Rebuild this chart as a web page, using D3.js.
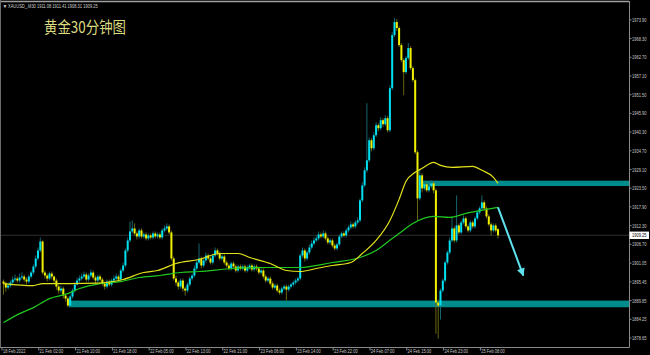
<!DOCTYPE html>
<html>
<head>
<meta charset="utf-8">
<script src="https://cdn.jsdelivr.net/npm/d3@7"></script>
<style>
  html, body { margin: 0; padding: 0; background: #000; }
  svg { display: block; }
</style>
</head>
<body>
<div id="chart"></div>
<script>
(function(){

    // ---- data (XAUUSD M30) ----
    var timeLabels = ["18 Feb 2022", "21 Feb 02:00", "21 Feb 10:00", "21 Feb 18:00", "22 Feb 05:00",
        "22 Feb 13:00", "22 Feb 21:00", "23 Feb 06:00", "23 Feb 14:00", "23 Feb 22:00",
        "24 Feb 07:00", "24 Feb 15:00", "24 Feb 23:00", "25 Feb 08:00"];
    var timeTickBars = [0, 16, 32, 48, 64, 80, 96, 112, 128, 144, 160, 176, 192, 208];

    var priceTicks = [1973.90, 1968.30, 1962.70, 1957.10, 1951.50, 1945.90, 1940.30, 1934.70, 1929.10,
        1923.50, 1917.90, 1912.30, 1906.70, 1901.05, 1895.45, 1889.85, 1884.25, 1878.65];

    var opens = [
        1895.4,1894.8,1893.6,1894.2,1895.1,1896.0,1896.3,1895.7,1896.6,1896.9,
        1896.0,1895.4,1896.9,1898.1,1899.9,1902.3,1904.7,1907.4,1898.1,1897.2,
        1896.3,1897.8,1896.9,1895.7,1893.9,1892.7,1893.3,1891.2,1890.3,1888.2,
        1890.9,1892.7,1894.5,1895.7,1896.3,1896.9,1897.5,1896.0,1897.2,1898.1,
        1896.6,1895.7,1896.9,1896.0,1894.8,1893.9,1895.4,1894.5,1895.7,1896.3,
        1896.9,1896.0,1898.7,1900.2,1904.7,1907.7,1910.4,1911.3,1909.8,1908.9,
        1910.7,1908.9,1909.5,1908.3,1909.2,1908.6,1909.8,1908.9,1909.5,1908.6,
        1910.7,1911.3,1911.9,1910.1,1902.3,1896.3,1895.1,1893.9,1895.7,1893.3,
        1892.7,1894.5,1896.3,1897.2,1899.3,1901.1,1902.3,1900.2,1901.7,1903.2,
        1902.3,1901.1,1903.2,1904.7,1903.8,1902.3,1902.9,1901.1,1900.2,1899.3,
        1900.8,1899.9,1898.7,1899.9,1899.3,1899.9,1898.7,1899.6,1900.2,1899.0,
        1899.9,1899.3,1898.1,1898.7,1896.9,1895.7,1896.3,1894.8,1893.6,1894.2,
        1892.7,1892.1,1893.3,1893.9,1893.0,1893.9,1894.5,1895.1,1895.7,1896.3,
        1903.2,1904.7,1902.3,1904.1,1905.6,1906.8,1907.7,1908.3,1909.5,1908.9,
        1909.8,1908.3,1907.1,1907.7,1906.2,1905.3,1906.5,1908.9,1909.8,1909.2,
        1910.7,1911.6,1912.5,1911.9,1913.1,1913.7,1919.7,1924.2,1928.7,1931.7,
        1937.7,1935.3,1939.2,1942.2,1941.3,1943.7,1942.5,1944.3,1940.7,1953.3,
        1969.2,1973.1,1971.3,1966.2,1961.7,1958.1,1962.3,1965.3,1959.3,1955.7,
        1934.1,1920.3,1927.2,1923.3,1924.5,1922.7,1923.9,1924.8,1922.7,1889.1,
        1888.2,1892.7,1895.7,1901.1,1904.1,1907.7,1911.3,1907.7,1912.2,1910.1,
        1913.1,1914.3,1911.9,1910.7,1913.1,1911.9,1914.3,1916.1,1917.3,1919.1,
        1917.3,1914.9,1912.5,1910.7,1912.2,1911.08];

    var highs = [
        1896.0,1895.4,1895.1,1895.7,1896.9,1897.5,1896.9,1897.8,1898.1,1897.5,
        1896.6,1897.5,1898.7,1900.5,1903.2,1905.6,1908.6,1907.7,1898.7,1897.8,
        1898.4,1898.4,1897.2,1896.3,1894.5,1894.2,1893.9,1891.8,1890.9,1891.5,
        1893.3,1895.1,1896.6,1897.2,1897.8,1898.4,1898.1,1897.8,1899.0,1898.7,
        1897.2,1897.5,1897.5,1896.6,1895.4,1896.0,1896.0,1896.3,1897.2,1897.8,
        1897.5,1899.3,1901.1,1905.3,1908.6,1913.4,1913.7,1912.8,1910.4,1911.3,
        1911.3,1910.1,1910.1,1909.8,1909.8,1910.4,1910.4,1910.1,1910.1,1911.3,
        1912.2,1912.8,1912.5,1910.7,1902.9,1897.2,1895.7,1896.3,1896.3,1893.9,
        1895.1,1896.9,1897.8,1900.2,1902.0,1906.8,1902.9,1902.6,1904.1,1903.8,
        1902.9,1903.8,1905.6,1905.3,1904.4,1903.5,1903.5,1901.7,1900.8,1901.4,
        1901.4,1900.5,1900.5,1900.5,1900.5,1900.5,1900.2,1900.8,1900.8,1900.5,
        1900.5,1899.9,1899.3,1899.3,1897.5,1896.9,1896.9,1895.4,1894.8,1894.8,
        1893.3,1893.9,1894.5,1894.5,1894.5,1895.1,1895.7,1896.3,1896.9,1903.8,
        1905.6,1905.3,1904.7,1906.5,1907.7,1908.6,1909.2,1910.4,1910.1,1910.7,
        1910.4,1908.9,1908.3,1908.3,1906.8,1907.1,1909.5,1910.4,1910.4,1911.3,
        1912.2,1913.4,1913.1,1913.7,1914.6,1920.3,1925.1,1929.6,1948.8,1938.6,
        1938.3,1940.1,1943.1,1942.8,1944.6,1944.3,1945.2,1944.9,1954.2,1970.1,
        1974.3,1974.0,1971.9,1966.8,1962.3,1962.9,1966.8,1965.9,1959.9,1956.3,
        1934.7,1929.0,1927.8,1925.4,1925.1,1924.8,1925.7,1925.4,1923.3,1890.0,
        1893.3,1896.3,1901.7,1904.7,1908.6,1914.6,1911.9,1921.2,1912.8,1913.7,
        1915.2,1914.9,1912.5,1913.7,1913.7,1914.9,1916.7,1917.9,1921.2,1919.7,
        1917.9,1915.5,1913.1,1912.8,1912.8,1911.41];

    var lows = [
        1891.5,1892.4,1893.0,1893.6,1894.5,1895.4,1895.1,1895.1,1896.0,1895.4,
        1894.5,1894.8,1896.3,1897.5,1899.3,1901.7,1904.1,1897.5,1896.3,1895.4,
        1895.7,1896.0,1894.8,1893.0,1891.8,1891.8,1890.3,1889.4,1887.6,1887.9,
        1890.3,1892.1,1894.2,1895.1,1895.7,1896.3,1895.4,1895.4,1896.6,1896.0,
        1894.8,1895.1,1895.4,1894.2,1893.0,1893.3,1893.9,1893.9,1895.1,1895.7,
        1895.4,1895.7,1898.1,1899.6,1904.1,1907.1,1909.8,1909.2,1908.0,1908.3,
        1908.3,1908.3,1907.7,1907.7,1908.0,1908.0,1908.3,1908.3,1908.0,1908.0,
        1910.1,1910.7,1909.5,1901.7,1895.7,1894.2,1893.0,1893.3,1892.4,1891.2,
        1892.1,1893.9,1895.7,1896.6,1898.7,1900.5,1899.3,1899.6,1901.1,1901.7,
        1900.5,1900.5,1902.6,1903.2,1901.7,1901.7,1900.5,1899.6,1898.7,1898.7,
        1899.3,1898.1,1898.1,1898.7,1898.7,1898.1,1898.1,1899.0,1898.4,1898.4,
        1898.7,1897.5,1897.5,1896.3,1895.1,1895.1,1894.2,1893.0,1893.0,1892.1,
        1891.5,1891.5,1892.7,1889.7,1892.4,1893.3,1893.9,1894.5,1895.1,1895.7,
        1902.6,1901.4,1901.7,1903.5,1905.0,1906.2,1907.1,1907.7,1908.3,1908.3,
        1907.7,1906.5,1906.5,1905.6,1904.7,1904.7,1905.9,1908.3,1908.6,1908.6,
        1910.1,1911.0,1911.3,1911.3,1912.5,1913.1,1919.1,1923.6,1928.1,1931.1,
        1934.4,1934.7,1938.6,1940.4,1940.7,1941.6,1941.9,1940.1,1940.1,1952.7,
        1968.6,1970.4,1965.6,1961.1,1951.2,1957.5,1961.7,1958.7,1955.1,1933.5,
        1913.7,1919.7,1922.1,1922.7,1922.1,1922.1,1923.3,1921.8,1879.8,1878.3,
        1884.0,1892.1,1895.1,1900.5,1903.5,1907.1,1907.1,1907.1,1909.5,1909.5,
        1912.5,1911.3,1910.1,1910.1,1911.3,1911.3,1913.7,1915.5,1916.7,1916.7,
        1914.3,1911.9,1909.2,1910.1,1910.1,1908.31];

    var closes = [
        1894.8,1893.6,1894.2,1895.1,1896.0,1896.3,1895.7,1896.6,1896.9,1896.0,
        1895.4,1896.9,1898.1,1899.9,1902.3,1904.7,1907.4,1898.1,1897.2,1896.3,
        1897.8,1896.9,1895.7,1893.9,1892.7,1893.3,1891.2,1890.3,1888.2,1890.9,
        1892.7,1894.5,1895.7,1896.3,1896.9,1897.5,1896.0,1897.2,1898.1,1896.6,
        1895.7,1896.9,1896.0,1894.8,1893.9,1895.4,1894.5,1895.7,1896.3,1896.9,
        1896.0,1898.7,1900.2,1904.7,1907.7,1910.4,1911.3,1909.8,1908.9,1910.7,
        1908.9,1909.5,1908.3,1909.2,1908.6,1909.8,1908.9,1909.5,1908.6,1910.7,
        1911.3,1911.9,1910.1,1902.3,1896.3,1895.1,1893.9,1895.7,1893.3,1892.7,
        1894.5,1896.3,1897.2,1899.3,1901.1,1902.3,1900.2,1901.7,1903.2,1902.3,
        1901.1,1903.2,1904.7,1903.8,1902.3,1902.9,1901.1,1900.2,1899.3,1900.8,
        1899.9,1898.7,1899.9,1899.3,1899.9,1898.7,1899.6,1900.2,1899.0,1899.9,
        1899.3,1898.1,1898.7,1896.9,1895.7,1896.3,1894.8,1893.6,1894.2,1892.7,
        1892.1,1893.3,1893.9,1893.0,1893.9,1894.5,1895.1,1895.7,1896.3,1903.2,
        1904.7,1902.3,1904.1,1905.6,1906.8,1907.7,1908.3,1909.5,1908.9,1909.8,
        1908.3,1907.1,1907.7,1906.2,1905.3,1906.5,1908.9,1909.8,1909.2,1910.7,
        1911.6,1912.5,1911.9,1913.1,1913.7,1919.7,1924.2,1928.7,1931.7,1937.7,
        1935.3,1939.2,1942.2,1941.3,1943.7,1942.5,1944.3,1940.7,1953.3,1969.2,
        1973.1,1971.3,1966.2,1961.7,1958.1,1962.3,1965.3,1959.3,1955.7,1934.1,
        1920.3,1927.2,1923.3,1924.5,1922.7,1923.9,1924.8,1922.7,1889.1,1888.2,
        1892.7,1895.7,1901.1,1904.1,1907.7,1911.3,1907.7,1912.2,1910.1,1913.1,
        1914.3,1911.9,1910.7,1913.1,1911.9,1914.3,1916.1,1917.3,1919.1,1917.3,
        1914.9,1912.5,1910.7,1912.2,1910.7,1909.25];

    // moving averages, [bar, price] read at sample points
    var fastMA = [[0,1894.8],[13,1894.2],[17,1894.8],[29,1894.8],[41,1894.9],[52,1896.0],
        [61,1898.1],[67,1898.7],[75,1900.8],[85,1902.0],[94,1903.8],[102,1903.8],[107,1902.6],
        [116,1900.8],[123,1898.7],[129,1898.4],[136,1899.3],[143,1900.2],[151,1901.1],
        [156,1903.8],[162,1907.7],[168,1913.7],[172,1920.0],[175,1925.4],[179,1928.1],
        [182,1929.3],[187,1931.1],[190,1930.2],[195,1929.6],[204,1929.9],[208,1928.7],
        [213,1926.6],[215,1924.8]];
    var slowMA = [[0,1883.1],[7,1885.8],[13,1887.6],[20,1890.3],[28,1891.8],[33,1893.3],
        [42,1894.8],[51,1895.4],[59,1896.6],[68,1897.2],[77,1898.1],[85,1898.4],[100,1899.3],
        [115,1899.6],[129,1899.6],[143,1901.1],[155,1902.6],[162,1904.7],[169,1908.3],
        [172,1909.8],[178,1912.8],[187,1914.9],[194,1914.6],[201,1915.8],[210,1917.0],
        [215,1917.6]];

    // drawn zones (start bar, top, bottom) and the forecast arrow
    var zoneStarts = [29, 182];
    var zoneTops = [1889.7, 1925.6];
    var zoneBottoms = [1887.7, 1924.0];
    var arrowFrom = [215, 1917.6];
    var arrowTo = [226, 1897.2];

    var lastPrice = 1909.25;
    var headerText = "XAUUSD_,M30  1911.08 1911.41 1908.31 1909.25";
    var title = "黄金30分钟图";

    // ---- layout ----
    var width = 650, height = 355;
    var plotRight = 629, plotBottom = 347;
    var sx = 0.67;                      // horizontal squeeze of the small terminal font
    var smallFont = "'Liberation Sans', Arial, sans-serif";

    var svg = d3.select("#chart").append("svg")
        .attr("width", width)
        .attr("height", height)
        .style("background", "#000");

    var x = d3.scaleLinear().domain([0, 215]).range([3.5, 498]);
    var y = d3.scaleLinear().domain([1875.8, 1978.8]).range([plotBottom, 3]);

    var defs = svg.append("defs");
    defs.append("clipPath").attr("id", "plotclip")
      .append("rect").attr("x", 1).attr("y", 2).attr("width", plotRight - 1).attr("height", plotBottom - 2);
    defs.append("marker")
        .attr("id", "head")
        .attr("viewBox", "0 0 10 10")
        .attr("refX", 9).attr("refY", 5)
        .attr("markerUnits", "userSpaceOnUse")
        .attr("markerWidth", 9).attr("markerHeight", 8)
        .attr("orient", "auto")
      .append("path")
        .attr("d", "M0,0 L10,5 L0,10 Z")
        .attr("fill", "#5fe2ee");

    function smallText(sel, px, py, str, fill) {
        return sel.append("text")
            .attr("transform", "translate(" + px + "," + py + ") scale(" + sx + ",1)")
            .attr("text-anchor", "start")
            .attr("fill", fill || "#c8c8c8")
            .style("font-family", smallFont)
            .style("font-size", "6px")
            .text(str);
    }

    var plot = svg.append("g").attr("clip-path", "url(#plotclip)");

    // current price line
    plot.append("line")
        .attr("x1", 0).attr("x2", plotRight)
        .attr("y1", y(lastPrice)).attr("y2", y(lastPrice))
        .attr("stroke", "#2e2e2e").attr("stroke-width", 1);

    // zones
    plot.selectAll(".zone")
        .data(zoneStarts)
      .enter().append("rect")
        .attr("class", "zone")
        .attr("x", function(d) { return x(d) - 1.2; })
        .attr("width", function(d) { return plotRight - x(d) + 1.2; })
        .attr("y", function(d, i) { return y(zoneTops[i]); })
        .attr("height", function(d, i) { return y(zoneBottoms[i]) - y(zoneTops[i]); })
        .attr("fill", "#008c8c");

    // candles
    var bars = d3.range(closes.length);
    var upBody = "#00e0f0", downBody = "#f0f000";
    var upWick = "#17707a", downWick = "#727214";

    plot.selectAll(".wick")
        .data(bars)
      .enter().append("line")
        .attr("class", "wick")
        .attr("x1", function(i) { return x(i); })
        .attr("x2", function(i) { return x(i); })
        .attr("y1", function(i) { return y(highs[i]); })
        .attr("y2", function(i) { return y(lows[i]); })
        .attr("stroke", function(i) { return closes[i] >= opens[i] ? upWick : downWick; })
        .attr("stroke-width", 0.9);

    plot.selectAll(".body")
        .data(bars)
      .enter().append("rect")
        .attr("class", "body")
        .attr("x", function(i) { return x(i) - 1; })
        .attr("width", 2)
        .attr("y", function(i) { return y(Math.max(opens[i], closes[i])); })
        .attr("height", function(i) { return Math.max(0.7, Math.abs(y(opens[i]) - y(closes[i]))); })
        .attr("fill", function(i) { return closes[i] >= opens[i] ? upBody : downBody; });

    // moving averages
    var maLine = d3.line()
        .x(function(d) { return x(d[0]); })
        .y(function(d) { return y(d[1]); })
        .curve(d3.curveMonotoneX);

    plot.append("path").datum(slowMA)
        .attr("d", maLine)
        .attr("fill", "none").attr("stroke", "#20c820").attr("stroke-width", 1.2);
    plot.append("path").datum(fastMA)
        .attr("d", maLine)
        .attr("fill", "none").attr("stroke", "#e2e21c").attr("stroke-width", 1.2);

    // forecast arrow
    plot.append("line")
        .attr("x1", x(arrowFrom[0])).attr("y1", y(arrowFrom[1]))
        .attr("x2", x(arrowTo[0])).attr("y2", y(arrowTo[1]))
        .attr("stroke", "#5fe2ee").attr("stroke-width", 2)
        .attr("marker-end", "url(#head)");

    // frame
    var frame = svg.append("g").attr("stroke", "#8a8a8a").attr("stroke-width", 1);
    frame.append("line").attr("x1", 0).attr("x2", plotRight).attr("y1", 1.5).attr("y2", 1.5).attr("stroke", "#a0a0a0").attr("stroke-width", 1.5);
    frame.append("line").attr("x1", 0.5).attr("x2", 0.5).attr("y1", 0).attr("y2", plotBottom).attr("stroke", "#6a6a6a");
    frame.append("line").attr("x1", plotRight + 0.5).attr("x2", plotRight + 0.5).attr("y1", 1).attr("y2", plotBottom + 0.5);
    frame.append("line").attr("x1", 0).attr("x2", plotRight + 0.5).attr("y1", plotBottom + 0.5).attr("y2", plotBottom + 0.5);

    // price axis
    var yAxis = d3.axisRight(y)
        .tickValues(priceTicks)
        .tickFormat("")
        .tickSize(2)
        .tickSizeOuter(0);

    var ya = svg.append("g")
        .attr("transform", "translate(" + (plotRight + 0.5) + ",0)")
        .call(yAxis);
    ya.select(".domain").remove();
    ya.selectAll(".tick line").attr("stroke", "#8a8a8a");
    ya.selectAll(".tick text").remove();
    ya.selectAll(".tick").each(function(d) {
        smallText(d3.select(this), 2.5, 2.1, d3.format(".2f")(d));
    });

    // last price tag
    svg.append("rect")
        .attr("x", plotRight + 0.5).attr("y", y(lastPrice) - 3.7)
        .attr("width", 19.5).attr("height", 7.4)
        .attr("fill", "#ffffff");
    smallText(svg, plotRight + 3, y(lastPrice) + 2.1, lastPrice.toFixed(2), "#000");

    // time axis
    var xAxis = d3.axisBottom(x)
        .tickValues(timeTickBars)
        .tickFormat("")
        .tickSize(3)
        .tickSizeOuter(0);

    var xa = svg.append("g")
        .attr("transform", "translate(-2," + (plotBottom + 0.5) + ")")
        .call(xAxis);
    xa.select(".domain").remove();
    xa.selectAll(".tick line").attr("stroke", "#8a8a8a");
    xa.selectAll(".tick text").remove();
    xa.selectAll(".tick").each(function(d, i) {
        smallText(d3.select(this), i === 0 ? 1.0 : 0.8, 5.6, timeLabels[i]);
    });

    // header line
    svg.append("text")
        .attr("x", 2.5).attr("y", 7.5)
        .attr("fill", "#d0d0d0")
        .style("font-family", smallFont)
        .style("font-size", "5px")
        .text("▼");
    smallText(svg, 8, 7.5, headerText, "#d0d0d0");

    // chart title
    svg.append("text")
        .attr("x", 44).attr("y", 33)
        .attr("fill", "#dcdc80")
        .style("font-family", "'Noto Sans CJK SC', sans-serif")
        .style("font-size", "16px")
        .attr("textLength", 82)
        .attr("lengthAdjust", "spacingAndGlyphs")
        .text(title);

})();
</script>
</body>
</html>
